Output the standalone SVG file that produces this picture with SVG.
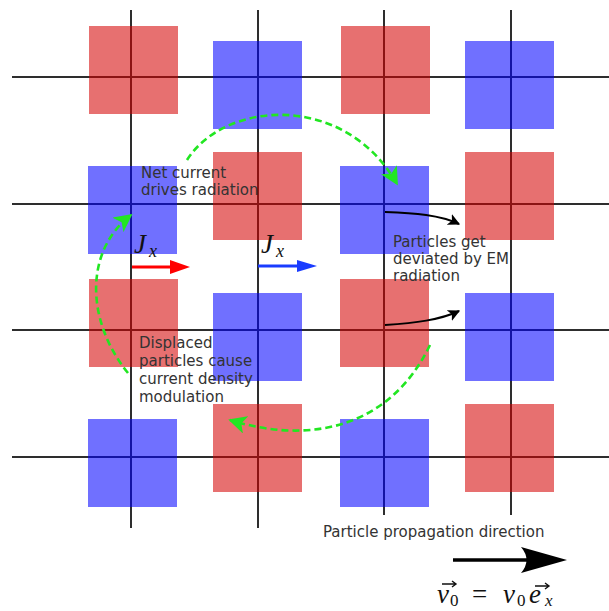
<svg xmlns="http://www.w3.org/2000/svg" width="609" height="611" viewBox="0 0 609 611">
<style>
.grid{stroke:#000;stroke-opacity:.82;stroke-width:2;fill:none}
.r{fill:#d40000;fill-opacity:.56}
.b{fill:#0000ff;fill-opacity:.56}
.lbl{font-family:"DejaVu Sans",sans-serif;font-size:15px;fill:#333}
.m{font-family:"Liberation Serif",serif;font-style:italic;fill:#111}
.mr{font-family:"Liberation Serif",serif;fill:#111}
.g{fill:none;stroke:#22e622;stroke-width:2.6;stroke-dasharray:7 4}
</style>
<defs>
<marker id="ga" viewBox="0 0 10 10" refX="9" refY="5" markerWidth="7" markerHeight="7" orient="auto" markerUnits="strokeWidth">
<path d="M0,0 L10,5 L0,10 L2.5,5 Z" fill="#22e622"/>
</marker>
<marker id="ka" viewBox="0 0 10 10" refX="9" refY="5" markerWidth="6" markerHeight="6" orient="auto" markerUnits="strokeWidth">
<path d="M0,0 L10,5 L0,10 L2.5,5 Z" fill="#000"/>
</marker>
</defs>
<g id="grid">
<path class="grid" d="M131,10V528M258,10V528M384,10V515M511,10V515M12,77H609M12,204H609M12,330H609M12,457H609"/>
</g>
<g id="charges">
<rect class="r" x="89" y="26" width="89" height="88"/>
<rect class="b" x="213" y="41" width="89" height="88"/>
<rect class="r" x="341" y="26" width="89" height="88"/>
<rect class="b" x="465" y="41" width="89" height="88"/>
<rect class="b" x="88" y="166" width="89" height="88"/>
<rect class="r" x="213" y="152" width="89" height="88"/>
<rect class="b" x="340" y="166" width="89" height="88"/>
<rect class="r" x="465" y="152" width="89" height="88"/>
<rect class="r" x="89" y="279" width="89" height="88"/>
<rect class="b" x="213" y="293" width="89" height="88"/>
<rect class="r" x="340" y="279" width="89" height="88"/>
<rect class="b" x="465" y="293" width="89" height="88"/>
<rect class="b" x="88" y="419" width="89" height="88"/>
<rect class="r" x="213" y="404" width="89" height="88"/>
<rect class="b" x="340" y="419" width="89" height="88"/>
<rect class="r" x="465" y="404" width="89" height="88"/>
</g>
<g id="connectors">
<path class="g" d="M187,160 C225,100 345,92 397,184" marker-end="url(#ga)"/>
<path class="g" d="M128,373 C85,320 85,250 131,215" marker-end="url(#ga)"/>
<path class="g" d="M430,345 C390,428 310,445 230,420" marker-end="url(#ga)"/>
<path d="M385,212 C415,213 440,215 459,224" fill="none" stroke="#000" stroke-width="2" marker-end="url(#ka)"/>
<path d="M385,325 C415,323 440,320 459,311" fill="none" stroke="#000" stroke-width="2" marker-end="url(#ka)"/>
<path d="M132,267H174" stroke="#ff0000" stroke-width="3"/>
<path d="M170,260 L190,267 L170,274 Z" fill="#ff0000"/>
<path d="M258,266H300" stroke="#1a3cff" stroke-width="3"/>
<path d="M297,260 L317,266 L297,272 Z" fill="#1a3cff"/>
<path d="M453,560H530" stroke="#000" stroke-width="3.5"/>
<path d="M567,560 L521,547 Q532,560 521,573 Z" fill="#000"/>
</g>
<g id="label-net">
<text class="lbl" x="141" y="178">Net current</text>
<text class="lbl" x="141" y="195">drives radiation</text>
</g>
<g id="label-deviated">
<text class="lbl" x="393" y="247">Particles get</text>
<text class="lbl" x="393" y="264">deviated by EM</text>
<text class="lbl" x="393" y="281">radiation</text>
</g>
<g id="label-displaced">
<text class="lbl" x="139" y="348">Displaced</text>
<text class="lbl" x="139" y="366">particles cause</text>
<text class="lbl" x="139" y="384">current density</text>
<text class="lbl" x="139" y="402">modulation</text>
</g>
<g id="label-jx1">
<text class="m" x="134" y="253" font-size="27">J</text>
<text class="m" x="149" y="257" font-size="18">x</text>
</g>
<g id="label-jx2">
<text class="m" x="261" y="253" font-size="27">J</text>
<text class="m" x="276" y="257" font-size="18">x</text>
</g>
<g id="label-direction">
<text class="lbl" x="323" y="537">Particle propagation direction</text>
</g>
<g id="label-formula">
<text class="m" x="437" y="603" font-size="27">v</text>
<path d="M442,584H455M452,581L456,584L452,587" fill="none" stroke="#111" stroke-width="1.4"/>
<text class="mr" x="450" y="606" font-size="17">0</text>
<text class="mr" x="472" y="603" font-size="27">=</text>
<text class="m" x="503" y="603" font-size="27">v</text>
<text class="mr" x="517" y="606" font-size="17">0</text>
<text class="m" x="529" y="603" font-size="27">e</text>
<path d="M535,586H548M545,583L549,586L545,589" fill="none" stroke="#111" stroke-width="1.4"/>
<text class="m" x="545" y="606" font-size="17">x</text>
</g>
</svg>
